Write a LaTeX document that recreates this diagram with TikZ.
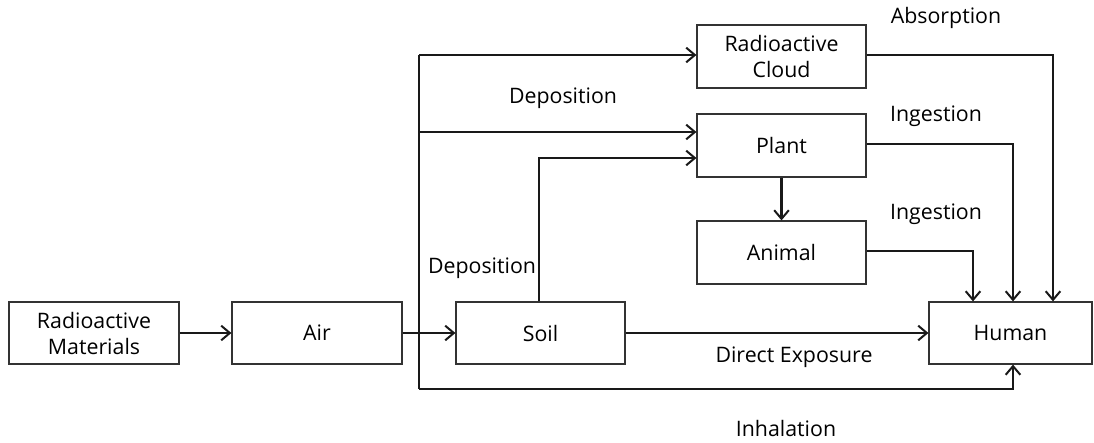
\documentclass[tikz,border=0pt]{standalone}
\usepackage{fontspec}
\setmainfont{Open Sans}
\usetikzlibrary{arrows.meta}
\begin{document}
\begin{tikzpicture}[x=0.75pt,y=-0.75pt,
  box/.style={draw=black!80,line width=0.9pt,minimum height=46.5pt,align=center,inner sep=0pt,font=\fontsize{16}{19.5}\selectfont},
  conn/.style={line width=1.8pt,black!90},
  arr/.style={conn,-{Straight Barb[length=6.5pt,width=11pt,line width=1.5pt]}},
  lbl/.style={font=\fontsize{16}{19.5}\selectfont,inner sep=0pt}]
\useasboundingbox (0,0) rectangle (1094,442);
\node[box,minimum width=127.5pt] (rm) at (94,333) {Radioactive\\Materials};
\node[box,minimum width=127.5pt] (air) at (317,333) {Air};
\node[box,minimum width=126.75pt] (soil) at (540.5,333) {Soil};
\node[box,minimum width=122.25pt] (human) at (1010.5,333) {Human};
\node[box,minimum width=126.75pt,minimum height=47.25pt] (cloud) at (781.5,56.5) {Radioactive\\Cloud};
\node[box,minimum width=126.75pt,minimum height=47.25pt] (plant) at (781.5,145.5) {Plant};
\node[box,minimum width=126.75pt,minimum height=47.25pt] (animal) at (781.5,252.5) {Animal};
\coordinate (jt) at (419,55);
\coordinate (jp) at (419,132);
\coordinate (jb) at (419,389);
\coordinate (sp) at (539,158);
\coordinate (hb) at (1013,389);
\coordinate (ca) at (1053,55);
\coordinate (pa) at (1013,144);
\coordinate (aa) at (973,251);
\draw[arr] (rm) -- (air);
\draw[arr] (air) -- (soil);
\draw[conn] (jt) -- (jb);
\draw[arr] (jt) -- (cloud.west |- jt);
\draw[arr] (jp) -- (plant.west |- jp);
\draw[arr] (soil.north -| sp) -- (sp) -- (plant.west |- sp);
\draw[arr] (jb) -- (hb) -- (human.south -| hb);
\draw[arr] (cloud.east |- ca) -- (ca) -- (human.north -| ca);
\draw[arr] (plant.east |- pa) -- (pa) -- (human.north -| pa);
\draw[arr] (animal.east |- aa) -- (aa) -- (human.north -| aa);
\draw[arr] (plant) -- (animal);
\draw[arr] (soil) -- (human);
\node[lbl] (l1) at (946,18) {Absorption};
\node[lbl] (l2) at (563,98) {Deposition};
\node[lbl] (l3) at (936,116) {Ingestion};
\node[lbl] (l4) at (936,214) {Ingestion};
\node[lbl] (l5) at (482,268) {Deposition};
\node[lbl] (l6) at (794,357) {Direct Exposure};
\node[lbl] (l7) at (786,428) {Inhalation};
\end{tikzpicture}
\end{document}
